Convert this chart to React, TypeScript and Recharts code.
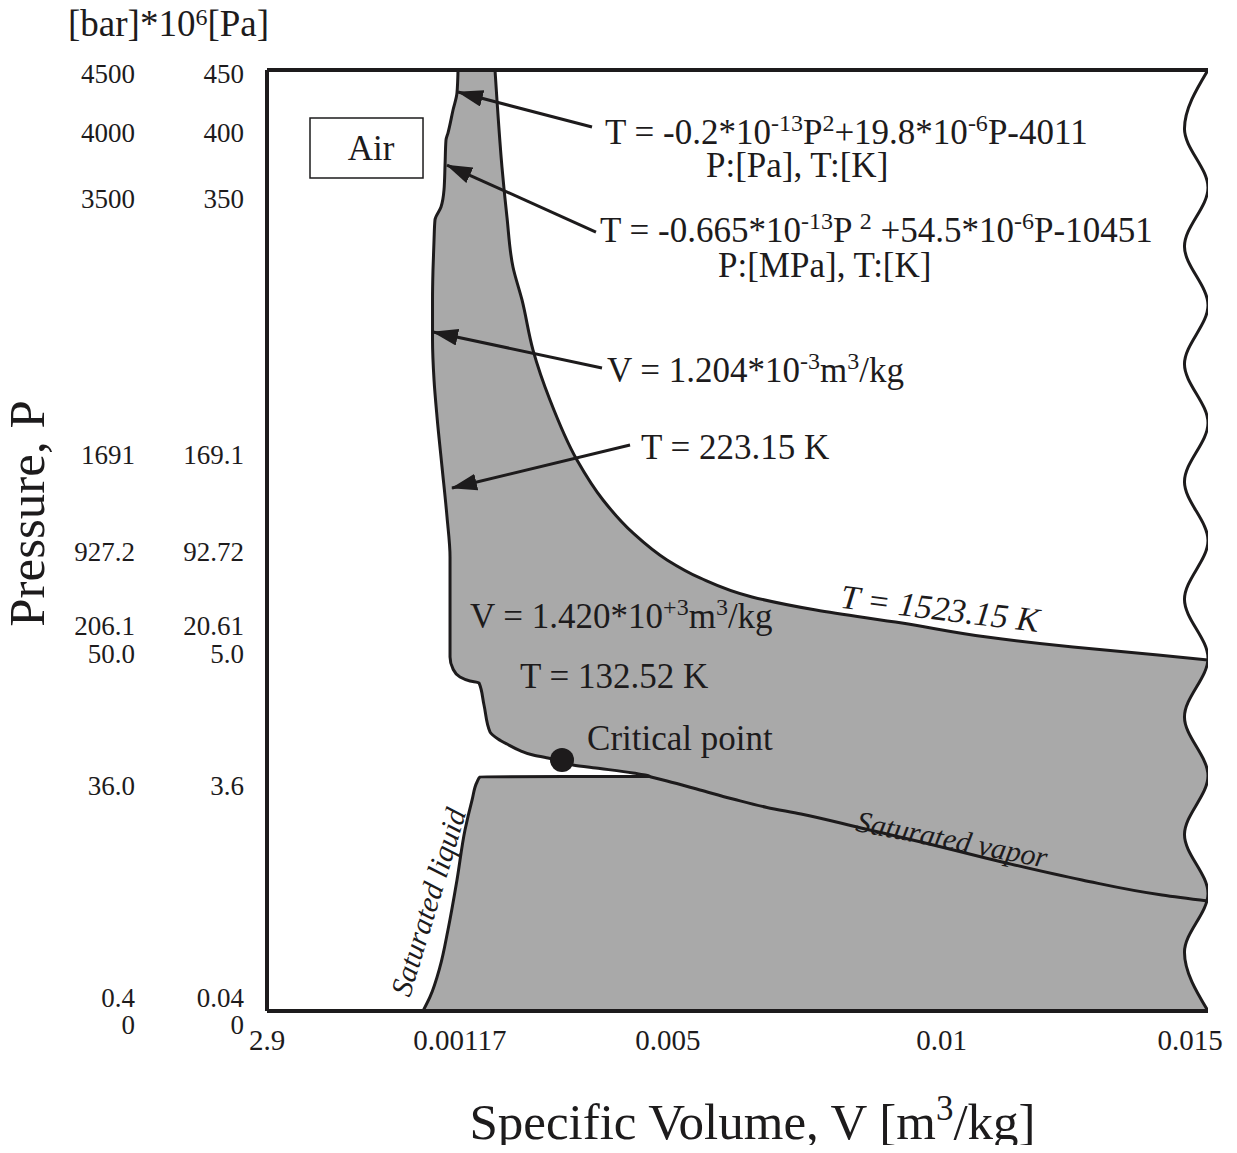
import React from 'react';
import {
  ComposedChart,
  Area,
  Line,
  Scatter,
  XAxis,
  YAxis,
  ReferenceArea,
  ReferenceDot,
  ReferenceLine,
} from 'recharts';

const INK = '#1d1b1c';
const SHADE = '#a9a9a9';
const SERIF = '"Liberation Serif", "Times New Roman", serif';

// The source diagram is schematic (axes not to scale), so both axes run 0..100
// in position units and the tick labels carry the real values.
const xTickPos = [0, 20.5, 42.6, 71.7, 98.1];
const xTickLabels = ['2.9', '0.00117', '0.005', '0.01', '0.015'];

const yTickPos = [99.6, 93.4, 86.3, 59.1, 48.8, 41.0, 38.0, 24.0, 1.4, 0];
const yTickBar = ['4500', '4000', '3500', '1691', '927.2', '206.1', '50.0', '36.0', '0.4', '0'];
const yTickPa = ['450', '400', '350', '169.1', '92.72', '20.61', '5.0', '3.6', '0.04', '0'];

// left edge of the shaded zone: saturated liquid, dome top, critical isotherm, 223.15 K, high-P fits
const leftEdge = [
  { x: 16.58, y: 0 },
  { x: 17.32, y: 1.49 },
  { x: 18.38, y: 4.68 },
  { x: 19.23, y: 8.61 },
  { x: 20.19, y: 13.92 },
  { x: 21.04, y: 19.23 },
  { x: 21.79, y: 22.42 },
  { x: 22.32, y: 24.34 },
  { x: 22.64, y: 24.89 },
  { x: 40.7, y: 24.93 },
  { x: 38.89, y: 25.29 },
  { x: 35.39, y: 25.77 },
  { x: 32.52, y: 26.14 },
  { x: 31.35, y: 26.62 },
  { x: 29.86, y: 26.89 },
  { x: 28.27, y: 27.2 },
  { x: 26.89, y: 27.68 },
  { x: 25.5, y: 28.37 },
  { x: 24.55, y: 28.91 },
  { x: 23.7, y: 29.65 },
  { x: 23.06, y: 32.52 },
  { x: 22.53, y: 34.86 },
  { x: 21.57, y: 35.07 },
  { x: 20.51, y: 35.49 },
  { x: 19.77, y: 36.34 },
  { x: 19.45, y: 37.62 },
  { x: 19.45, y: 43.68 },
  { x: 19.45, y: 48.25 },
  { x: 19.13, y: 52.5 },
  { x: 18.6, y: 57.81 },
  { x: 18.07, y: 63.12 },
  { x: 17.75, y: 67.06 },
  { x: 17.59, y: 71.31 },
  { x: 17.59, y: 75.56 },
  { x: 17.64, y: 78.75 },
  { x: 17.75, y: 81.93 },
  { x: 17.85, y: 84.06 },
  { x: 18.49, y: 85.44 },
  { x: 18.81, y: 87.25 },
  { x: 18.92, y: 89.9 },
  { x: 19.02, y: 92.56 },
  { x: 19.23, y: 93.3 },
  { x: 19.77, y: 95.75 },
  { x: 20.19, y: 97.56 },
  { x: 20.3, y: 100 },
];

// T = 1523.15 K isotherm
const hotIsotherm = [
  { x: 100, y: 37.3 },
  { x: 94.69, y: 37.83 },
  { x: 85.65, y: 38.68 },
  { x: 76.51, y: 39.74 },
  { x: 67.48, y: 41.23 },
  { x: 58.34, y: 42.61 },
  { x: 51.54, y: 44.0 },
  { x: 46.01, y: 46.02 },
  { x: 42.51, y: 47.93 },
  { x: 38.89, y: 50.8 },
  { x: 35.71, y: 54.3 },
  { x: 32.94, y: 58.55 },
  { x: 30.07, y: 64.93 },
  { x: 28.27, y: 70.24 },
  { x: 27.1, y: 75.56 },
  { x: 26.14, y: 79.06 },
  { x: 25.5, y: 84.38 },
  { x: 24.97, y: 89.69 },
  { x: 24.44, y: 96.81 },
  { x: 24.23, y: 100 },
];

const satVapor = [
  { x: 100, y: 11.69 },
  { x: 95.11, y: 12.33 },
  { x: 86.61, y: 13.92 },
  { x: 78.11, y: 15.83 },
  { x: 69.5, y: 17.96 },
  { x: 63.12, y: 19.45 },
  { x: 56.75, y: 20.94 },
  { x: 53.13, y: 21.63 },
  { x: 49.52, y: 22.53 },
  { x: 46.01, y: 23.49 },
  { x: 42.51, y: 24.44 },
  { x: 40.7, y: 24.9 },
];

// wavy break line on the right side
const breakEdge = [
  { x: 100, y: 0 },
  { x: 97.5, y: 6.25 },
  { x: 100, y: 12.5 },
  { x: 97.5, y: 18.75 },
  { x: 100, y: 25 },
  { x: 97.5, y: 31.25 },
  { x: 100, y: 37.5 },
  { x: 97.5, y: 43.75 },
  { x: 100, y: 50 },
  { x: 97.5, y: 56.25 },
  { x: 100, y: 62.5 },
  { x: 97.5, y: 68.75 },
  { x: 100, y: 75 },
  { x: 97.5, y: 81.25 },
  { x: 100, y: 87.5 },
  { x: 97.5, y: 93.75 },
  { x: 100, y: 100 },
];

const criticalPoint = { x: 31.35, y: 26.67 };
const airBox = { x1: 4.57, x2: 16.58, y1: 88.52, y2: 94.9 };

const arrows = [
  [{ x: 34.54, y: 93.94 }, { x: 20.3, y: 97.66 }],
  [{ x: 34.96, y: 82.78 }, { x: 19.13, y: 89.9 }],
  [{ x: 35.6, y: 68.33 }, { x: 17.64, y: 72.16 }],
  [{ x: 38.58, y: 60.15 }, { x: 19.66, y: 55.58 }],
];

type Part = string | { sup: string };

const notes: { x: number; y: number; parts: Part[] }[] = [
  { x: 35.92, y: 92.14, parts: ['T = -0.2*10', { sup: '-13' }, 'P', { sup: '2' }, '+19.8*10', { sup: '-6' }, 'P-4011'] },
  { x: 46.65, y: 88.6, parts: ['P:[Pa], T:[K]'] },
  { x: 35.39, y: 81.72, parts: ['T = -0.665*10', { sup: '-13' }, 'P ', { sup: '2' }, ' +54.5*10', { sup: '-6' }, 'P-10451'] },
  { x: 47.93, y: 78.0, parts: ['P:[MPa], T:[K]'] },
  { x: 36.13, y: 66.84, parts: ['V = 1.204*10', { sup: '-3' }, 'm', { sup: '3' }, '/kg'] },
  { x: 39.74, y: 58.66, parts: ['T = 223.15 K'] },
  { x: 21.57, y: 40.7, parts: ['V = 1.420*10', { sup: '+3' }, 'm', { sup: '3' }, '/kg'] },
  { x: 26.89, y: 34.33, parts: ['T = 132.52 K'] },
  { x: 34.01, y: 27.74, parts: ['Critical point'] },
];

const centeredNotes = [
  { x: 11.05, y: 91.71, angle: 0, size: 35, italic: false, text: 'Air' },
  { x: 71.52, y: 42.77, angle: 7, size: 34, italic: true, text: 'T = 1523.15 K' },
  { x: 72.8, y: 18.28, angle: 11, size: 30, italic: true, text: 'Saturated vapor' },
  { x: 17.11, y: 11.58, angle: -73, size: 30, italic: true, text: 'Saturated liquid' },
];

const renderParts = (parts: Part[], size: number, supScale = 0.68, lift = 0.38) => {
  const shift = Math.round(size * lift);
  let raised = false;
  return parts.map((p, i) => {
    if (typeof p === 'string') {
      const dy = raised ? shift : 0;
      raised = false;
      return (
        <tspan key={i} dy={dy}>
          {p}
        </tspan>
      );
    }
    const dy = raised ? 0 : -shift;
    raised = true;
    return (
      <tspan key={i} dy={dy} fontSize={Math.round(size * supScale)}>
        {p.sup}
      </tspan>
    );
  });
};

const NoteShape = (props: any) => {
  const { cx, cy, payload } = props;
  return (
    <text x={cx} y={cy} fontFamily={SERIF} fontSize={35} fill={INK}>
      {renderParts(payload.parts, 35)}
    </text>
  );
};

const CenteredNoteShape = (props: any) => {
  const { cx, cy, payload } = props;
  return (
    <text
      x={cx}
      y={cy}
      textAnchor="middle"
      dominantBaseline="central"
      fontFamily={SERIF}
      fontSize={payload.size}
      fontStyle={payload.italic ? 'italic' : 'normal'}
      fill={INK}
      transform={`rotate(${payload.angle}, ${cx}, ${cy})`}
    >
      {payload.text}
    </text>
  );
};

const XTick = (props: any) => {
  const { x, y, payload } = props;
  const i = xTickPos.indexOf(payload.value);
  if (i < 0) return null;
  return (
    <text x={x} y={y} dy={39} textAnchor="middle" fontFamily={SERIF} fontSize={29} fill={INK}>
      {xTickLabels[i]}
    </text>
  );
};

const YTick = (props: any) => {
  const { x, y, payload } = props;
  const i = yTickPos.indexOf(payload.value);
  if (i < 0) return null;
  const yy = y + (payload.value === 0 ? 14 : 0);
  return (
    <g fontFamily={SERIF} fontSize={27} fill={INK}>
      <text x={x - 132} y={yy} dy="0.35em" textAnchor="end">
        {yTickBar[i]}
      </text>
      <text x={x - 23} y={yy} dy="0.35em" textAnchor="end">
        {yTickPa[i]}
      </text>
    </g>
  );
};

const XTitle = (props: any) => {
  const vb = props.viewBox ?? {};
  const cx = (vb.x ?? 259) + (vb.width ?? 941) / 2 + 15;
  const y = (vb.y ?? 1003) + 128;
  return (
    <text x={cx} y={y} textAnchor="middle" fontFamily={SERIF} fontSize={51} fill={INK}>
      {renderParts(['Specific Volume, V [m', { sup: '3' }, '/kg]'], 51)}
    </text>
  );
};

const YTitle = (props: any) => {
  const vb = props.viewBox ?? {};
  const x0 = vb.x ?? 0;
  const y0 = vb.y ?? 62;
  const h = vb.height ?? 941;
  const tx = x0 + 36;
  const ty = y0 + h / 2 - 27;
  return (
    <g fontFamily={SERIF} fill={INK}>
      <text x={tx} y={ty} textAnchor="middle" fontSize={51} transform={`rotate(-90, ${tx}, ${ty})`}>
        Pressure, P
      </text>
      <text x={x0 + 60} y={y0 - 34} fontSize={37}>
        {renderParts(['[bar]*10', { sup: '6' }, '[Pa]'], 37, 0.66, 0.3)}
      </text>
    </g>
  );
};

export default function App() {
  return (
    <div style={{ width: 1221, height: 1137, background: '#fff' }}>
      <style>{'.recharts-surface { overflow: visible; }'}</style>
      <ComposedChart
        width={1221}
        height={1137}
        layout="vertical"
        margin={{ top: 62, right: 21, bottom: 74, left: 0 }}
      >
        <defs>
          <marker
            id="arrowHead"
            viewBox="0 0 26 17"
            markerWidth={26}
            markerHeight={17}
            refX={25}
            refY={8.5}
            orient="auto"
            markerUnits="userSpaceOnUse"
          >
            <path d="M0,0 L26,8.5 L0,17 z" fill={INK} />
          </marker>
        </defs>
        <XAxis
          type="number"
          domain={[0, 100]}
          allowDataOverflow
          ticks={xTickPos}
          interval={0}
          tick={(p: any) => <XTick {...p} />}
          tickLine={false}
          axisLine={false}
          tickSize={0}
          tickMargin={0}
          height={60}
          label={(p: any) => <XTitle {...p} />}
        />
        <YAxis
          type="number"
          dataKey="y"
          domain={[0, 100]}
          reversed
          allowDataOverflow
          ticks={yTickPos}
          interval={0}
          tick={(p: any) => <YTick {...p} />}
          tickLine={false}
          axisLine={false}
          tickSize={0}
          tickMargin={0}
          width={259}
          label={(p: any) => <YTitle {...p} />}
        />

        {/* shaded zone, then white cut-outs above the hot isotherm and beyond the break */}
        <Area
          data={leftEdge}
          dataKey="x"
          type="monotone"
          baseValue={100}
          fill={SHADE}
          fillOpacity={1}
          stroke={INK}
          strokeWidth={3}
          dot={false}
          activeDot={false}
          isAnimationActive={false}
        />
        <Area
          data={hotIsotherm}
          dataKey="x"
          type="monotone"
          baseValue={100}
          fill="#ffffff"
          fillOpacity={1}
          stroke={INK}
          strokeWidth={3}
          dot={false}
          activeDot={false}
          isAnimationActive={false}
        />
        <Area
          data={breakEdge}
          dataKey="x"
          type="monotone"
          baseValue={100}
          fill="#ffffff"
          fillOpacity={1}
          stroke={INK}
          strokeWidth={3}
          dot={false}
          activeDot={false}
          isAnimationActive={false}
        />
        <ReferenceArea
          x1={airBox.x1}
          x2={airBox.x2}
          y1={airBox.y1}
          y2={airBox.y2}
          fill="#ffffff"
          fillOpacity={1}
          stroke={INK}
          strokeWidth={1.5}
        />

        <Line
          data={satVapor}
          dataKey="x"
          type="monotone"
          stroke={INK}
          strokeWidth={3}
          dot={false}
          activeDot={false}
          isAnimationActive={false}
        />
        {arrows.map((a, i) => (
          <Line
            key={i}
            data={a}
            dataKey="x"
            type="linear"
            stroke={INK}
            strokeWidth={3}
            dot={false}
            activeDot={false}
            markerEnd="url(#arrowHead)"
            isAnimationActive={false}
          />
        ))}

        <ReferenceLine y={100} stroke={INK} strokeWidth={4} />
        <ReferenceLine y={0} stroke={INK} strokeWidth={4} />
        <ReferenceLine x={0} stroke={INK} strokeWidth={4} />

        <ReferenceDot x={criticalPoint.x} y={criticalPoint.y} r={12} fill={INK} stroke="none" />

        <Scatter data={notes} dataKey="x" shape={(p: any) => <NoteShape {...p} />} isAnimationActive={false} />
        <Scatter
          data={centeredNotes}
          dataKey="x"
          shape={(p: any) => <CenteredNoteShape {...p} />}
          isAnimationActive={false}
        />
      </ComposedChart>
    </div>
  );
}
